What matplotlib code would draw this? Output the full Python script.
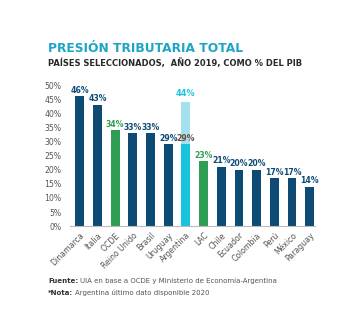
import numpy as np
import matplotlib.pyplot as plt

# Presión tributaria total, % del PIB
paises = ['Dinamarca', 'Italia', 'OCDE', 'Reino Unido', 'Brasil', 'Uruguay',
          'Argentina', 'LAC', 'Chile', 'Ecuador', 'Colombia', 'Perú', 'México',
          'Paraguay']
valores = [46, 43, 34, 33, 33, 29, 29, 23, 21, 20, 20, 17, 17, 14]
# Argentina: tramo adicional (total 44%)
arg_total = 44

navy = '#0d4b74'
green = '#2f9e55'
cyan = '#19c3dc'
light_cyan = '#a3e1ee'

colores = [navy, navy, green, navy, navy, navy, cyan, green,
           navy, navy, navy, navy, navy, navy]
col_texto = [navy, navy, green, navy, navy, navy, '#6b4a3a', green,
             navy, navy, navy, navy, navy, navy]

fig = plt.figure(figsize=(3.5, 3.36), dpi=100)
ax = fig.add_axes([0.20, 0.327, 0.70, 0.42])

x = np.arange(len(paises))
ax.bar(x, valores, width=0.5, color=colores, zorder=2)
i_arg = paises.index('Argentina')
ax.bar(x[i_arg], arg_total - valores[i_arg], bottom=valores[i_arg], width=0.5,
       color=light_cyan, zorder=2)

for xi, v, c in zip(x, valores, col_texto):
    ax.text(xi, v + 0.5, f'{v}%', ha='center', va='bottom', fontsize=5.6,
            fontweight='bold', color=c)
ax.text(x[i_arg], arg_total + 1.5, f'{arg_total}%', ha='center', va='bottom',
        fontsize=5.9, fontweight='bold', color=cyan)

ax.set_ylim(0, 50)
ax.set_xlim(-0.55, 13.3)
ax.set_yticks(np.arange(0, 51, 5))
ax.set_yticklabels([f'{t}%' for t in range(0, 51, 5)])
ax.set_xticks(x)
ax.set_xticklabels(paises, rotation=45, ha='right', rotation_mode='anchor')
ax.tick_params(axis='both', length=0, labelsize=5.6, labelcolor='#555555')
ax.tick_params(axis='y', pad=6)
for s in ['top', 'right', 'left']:
    ax.spines[s].set_visible(False)
ax.spines['bottom'].set_color('#bbbbbb')
ax.spines['bottom'].set_linewidth(0.8)

fig.text(0.137, 0.857, 'PRESIÓN TRIBUTARIA TOTAL', fontsize=8.8,
         fontweight='bold', color='#1ea5c4', va='center')
fig.text(0.137, 0.8125, 'PAÍSES SELECCIONADOS,  AÑO 2019, COMO % DEL PIB',
         fontsize=6.0, fontweight='bold', color='#2a2a2a', va='center')

# pie de fuente: palabra en negrita seguida del texto normal
renderer = fig.canvas.get_renderer()


def nota(y, negrita, resto):
    t = fig.text(0.137, y, negrita, fontsize=5.0, fontweight='bold',
                 color='#333333', va='center')
    bb = t.get_window_extent(renderer=renderer)
    x1 = fig.transFigure.inverted().transform((bb.x1, bb.y0))[0]
    fig.text(x1 + 0.006, y, resto, fontsize=5.0, color='#555555', va='center')


nota(0.164, 'Fuente:', 'UIA en base a OCDE y Ministerio de Economía-Argentina')
nota(0.128, '*Nota:', 'Argentina último dato disponible 2020')

fig.savefig('out.png', dpi=100, facecolor='white')
